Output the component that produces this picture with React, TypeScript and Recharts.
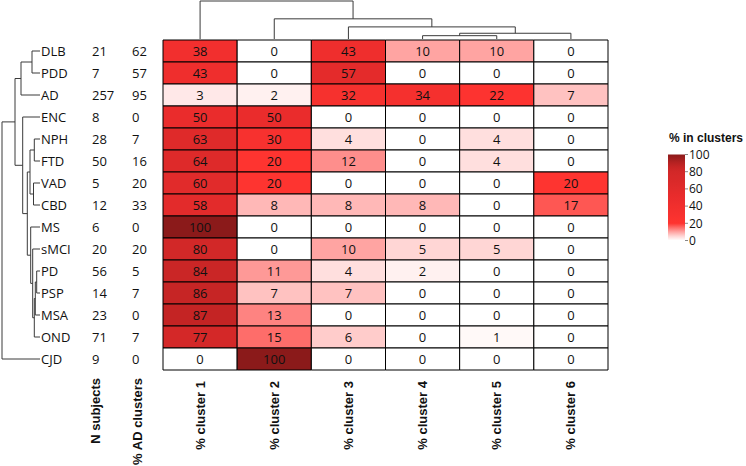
import {
  ScatterChart,
  Scatter,
  XAxis,
  YAxis,
  ReferenceArea,
  BarChart,
  Bar,
} from "recharts";

const rowNames = ["DLB", "PDD", "AD", "ENC", "NPH", "FTD", "VAD", "CBD", "MS", "sMCI", "PD", "PSP", "MSA", "OND", "CJD"];
const nSubjects = [21, 7, 257, 8, 28, 50, 5, 12, 6, 20, 56, 14, 23, 71, 9];
const pctAdClusters = [62, 57, 95, 0, 7, 16, 20, 33, 0, 20, 5, 7, 0, 7, 0];

const clusterNames = ["% cluster 1", "% cluster 2", "% cluster 3", "% cluster 4", "% cluster 5", "% cluster 6"];
const cluster1 = [38, 43, 3, 50, 63, 64, 60, 58, 100, 80, 84, 86, 87, 77, 0];
const cluster2 = [0, 0, 2, 50, 30, 20, 20, 8, 0, 0, 11, 7, 13, 15, 100];
const cluster3 = [43, 57, 32, 0, 4, 12, 0, 8, 0, 10, 4, 7, 0, 6, 0];
const cluster4 = [10, 0, 34, 0, 0, 0, 0, 8, 0, 5, 2, 0, 0, 0, 0];
const cluster5 = [10, 0, 22, 0, 4, 4, 0, 0, 0, 5, 0, 0, 0, 1, 0];
const cluster6 = [0, 0, 7, 0, 0, 0, 20, 17, 0, 0, 0, 0, 0, 0, 0];
const clusterValues = [cluster1, cluster2, cluster3, cluster4, cluster5, cluster6];

// dendrogram merges: [left, right, height]; numbers point at an earlier merge
type Merge = [string | number, string | number, number];
const rowMerges: Merge[] = [
  ["PD", "PSP", 3.3],
  [0, "MSA", 4.7],
  [1, "OND", 5.7],
  ["NPH", "FTD", 5.7],
  ["VAD", "CBD", 6.5],
  ["sMCI", 2, 7.3],
  ["DLB", "PDD", 8],
  ["MS", 5, 9.3],
  [3, 4, 10],
  [8, 7, 12.7],
  ["ENC", 9, 17.3],
  [6, "AD", 19],
  [11, 10, 25],
  [12, "CJD", 38],
];
const colMerges: Merge[] = [
  ["% cluster 4", "% cluster 5", 3.3],
  [0, "% cluster 6", 5.7],
  ["% cluster 3", 1, 12],
  ["% cluster 2", 2, 20],
  ["% cluster 1", 3, 37.7],
];

const legendTicks = [0, 20, 40, 60, 80, 100];

const colorStops: [number, number[]][] = [
  [0, [255, 255, 255]],
  [20, [254, 52, 48]],
  [50, [234, 44, 44]],
  [65, [221, 42, 42]],
  [80, [210, 40, 40]],
  [87, [196, 36, 36]],
  [100, [139, 26, 26]],
];

function heatColor(v: number) {
  for (let i = 1; i < colorStops.length; i++) {
    const [b, cb] = colorStops[i];
    const [a, ca] = colorStops[i - 1];
    if (v <= b) {
      let t = (v - a) / (b - a);
      if (i === 1) t = Math.pow(t, 1.15);
      const c = ca.map((x, k) => Math.round(x + (cb[k] - x) * t));
      return `rgb(${c[0]},${c[1]},${c[2]})`;
    }
  }
  return "rgb(139,26,26)";
}

function buildLinks(leaves: string[], merges: Merge[]) {
  const pos: number[] = [];
  const hgt: number[] = [];
  const node = (n: string | number) =>
    typeof n === "string" ? { p: leaves.indexOf(n) + 0.5, h: 0 } : { p: pos[n], h: hgt[n] };
  return merges.map(([a, b, h], i) => {
    const na = node(a);
    const nb = node(b);
    pos[i] = (na.p + nb.p) / 2;
    hgt[i] = h;
    return [
      { p: na.p, h: na.h },
      { p: na.p, h },
      { p: nb.p, h },
      { p: nb.p, h: nb.h },
    ];
  });
}

const rowLinks = buildLinks(rowNames, rowMerges);
const colLinks = buildLinks(clusterNames, colMerges);

const cells = clusterValues.flatMap((vals, c) =>
  vals.map((v, r) => ({ x: c + 0.5, y: r + 0.5, col: c, row: r, value: v }))
);

const FONT = "'Open Sans', sans-serif";
const BOLD = "'Liberation Sans', Arial, sans-serif";
const INK = "#111";
const TREE = "#3a3a3a";

const RowTick = (props: any) => {
  const { x, y, payload } = props;
  const i = Math.floor(payload.value);
  const style = { fontFamily: FONT, fontSize: 13, fill: INK };
  return (
    <g>
      <text x={x - 122} y={y} dy="0.35em" {...style}>{rowNames[i]}</text>
      <text x={x - 71} y={y} dy="0.35em" {...style}>{nSubjects[i]}</text>
      <text x={x - 31} y={y} dy="0.35em" {...style}>{pctAdClusters[i]}</text>
    </g>
  );
};

const ColTick = (props: any) => {
  const { x, y, payload } = props;
  const i = Math.floor(payload.value);
  return (
    <g transform={`translate(${x},${y + 11}) rotate(-90)`}>
      <text x={0} y={0} dy="0.35em" textAnchor="end" fontFamily={BOLD} fontWeight="bold" fontSize={13} fill={INK}>
        {clusterNames[i]}
      </text>
    </g>
  );
};

const hidden = () => <g />;

export default function App() {
  return (
    <div style={{ position: "absolute", left: 0, top: 0, width: 746, height: 466, background: "#fff" }}>
      <div style={{ position: "absolute", left: 0, top: 0 }}>
        <ScatterChart width={746} height={466} margin={{ top: 40, right: 138, bottom: 0, left: 33 }}>
          <XAxis
            type="number"
            dataKey="x"
            domain={[0, 6]}
            ticks={[0.5, 1.5, 2.5, 3.5, 4.5, 5.5]}
            tick={<ColTick />}
            height={96}
            tickSize={0}
            tickMargin={0}
            axisLine={false}
            tickLine={false}
            interval={0}
          />
          <YAxis
            type="number"
            dataKey="y"
            domain={[0, 15]}
            reversed
            ticks={rowNames.map((_, i) => i + 0.5)}
            tick={<RowTick />}
            width={130}
            tickSize={0}
            tickMargin={0}
            axisLine={false}
            tickLine={false}
            interval={0}
          />
          {cells.map((c) => (
            <ReferenceArea
              key={`${c.col}-${c.row}`}
              x1={c.col}
              x2={c.col + 1}
              y1={c.row}
              y2={c.row + 1}
              fill={heatColor(c.value)}
              fillOpacity={1}
              stroke="#000"
              strokeWidth={1}
              label={{ value: String(c.value), position: "center", fill: INK, fontSize: 13, fontFamily: FONT }}
            />
          ))}
          <Scatter data={cells} shape={hidden} isAnimationActive={false} />
        </ScatterChart>
      </div>

      <div style={{ position: "absolute", left: 0, top: 0 }}>
        <ScatterChart width={41} height={466} margin={{ top: 40, right: 1, bottom: 96, left: 2 }}>
          <XAxis type="number" dataKey="h" domain={[0, 38]} reversed hide />
          <YAxis type="number" dataKey="p" domain={[0, 15]} reversed hide />
          {rowLinks.map((pts, i) => (
            <Scatter
              key={i}
              data={pts}
              line={{ stroke: TREE, strokeWidth: 1 }}
              lineType="joint"
              shape={hidden}
              isAnimationActive={false}
            />
          ))}
        </ScatterChart>
      </div>

      <div style={{ position: "absolute", left: 0, top: 0 }}>
        <ScatterChart width={746} height={40} margin={{ top: 1, right: 138, bottom: 1, left: 163 }}>
          <XAxis type="number" dataKey="p" domain={[0, 6]} hide />
          <YAxis type="number" dataKey="h" domain={[0, 37.7]} hide />
          {colLinks.map((pts, i) => (
            <Scatter
              key={i}
              data={pts}
              line={{ stroke: TREE, strokeWidth: 1 }}
              lineType="joint"
              shape={hidden}
              isAnimationActive={false}
            />
          ))}
        </ScatterChart>
      </div>

      <div style={{ position: "absolute", left: 660, top: 140 }}>
        <BarChart
          width={86}
          height={110}
          data={[{ name: "% in clusters", value: legendTicks[legendTicks.length - 1] }]}
          margin={{ top: 14.5, right: 0, bottom: 9.5, left: 8 }}
          barCategoryGap={0}
        >
          <defs>
            <linearGradient id="heatGrad" x1="0" y1="1" x2="0" y2="0">
              {Array.from({ length: 21 }, (_, k) => k * 5).map((v) => (
                <stop key={v} offset={`${v}%`} stopColor={heatColor(v)} />
              ))}
            </linearGradient>
          </defs>
          <XAxis dataKey="name" hide />
          <YAxis
            orientation="right"
            domain={[0, 100]}
            ticks={legendTicks}
            width={61}
            axisLine={false}
            tickSize={3}
            tickMargin={1}
            tickLine={{ stroke: "#888" }}
            tick={{ fontFamily: FONT, fontSize: 12, fill: INK, textAnchor: "start" }}
            interval={0}
          />
          <Bar dataKey="value" fill="url(#heatGrad)" isAnimationActive={false} />
        </BarChart>
      </div>

      <svg width={746} height={466} style={{ position: "absolute", left: 0, top: 0, pointerEvents: "none" }}>
        <text x={669} y={142} fontFamily={BOLD} fontWeight="bold" fontSize={12} fill={INK}>
          % in clusters
        </text>
        <g transform="translate(95,378) rotate(-90)">
          <text dy="0.35em" textAnchor="end" fontFamily={BOLD} fontWeight="bold" fontSize={13} fill={INK}>
            N subjects
          </text>
        </g>
        <g transform="translate(137,378) rotate(-90)">
          <text dy="0.35em" textAnchor="end" fontFamily={BOLD} fontWeight="bold" fontSize={13} fill={INK}>
            % AD clusters
          </text>
        </g>
      </svg>
    </div>
  );
}
